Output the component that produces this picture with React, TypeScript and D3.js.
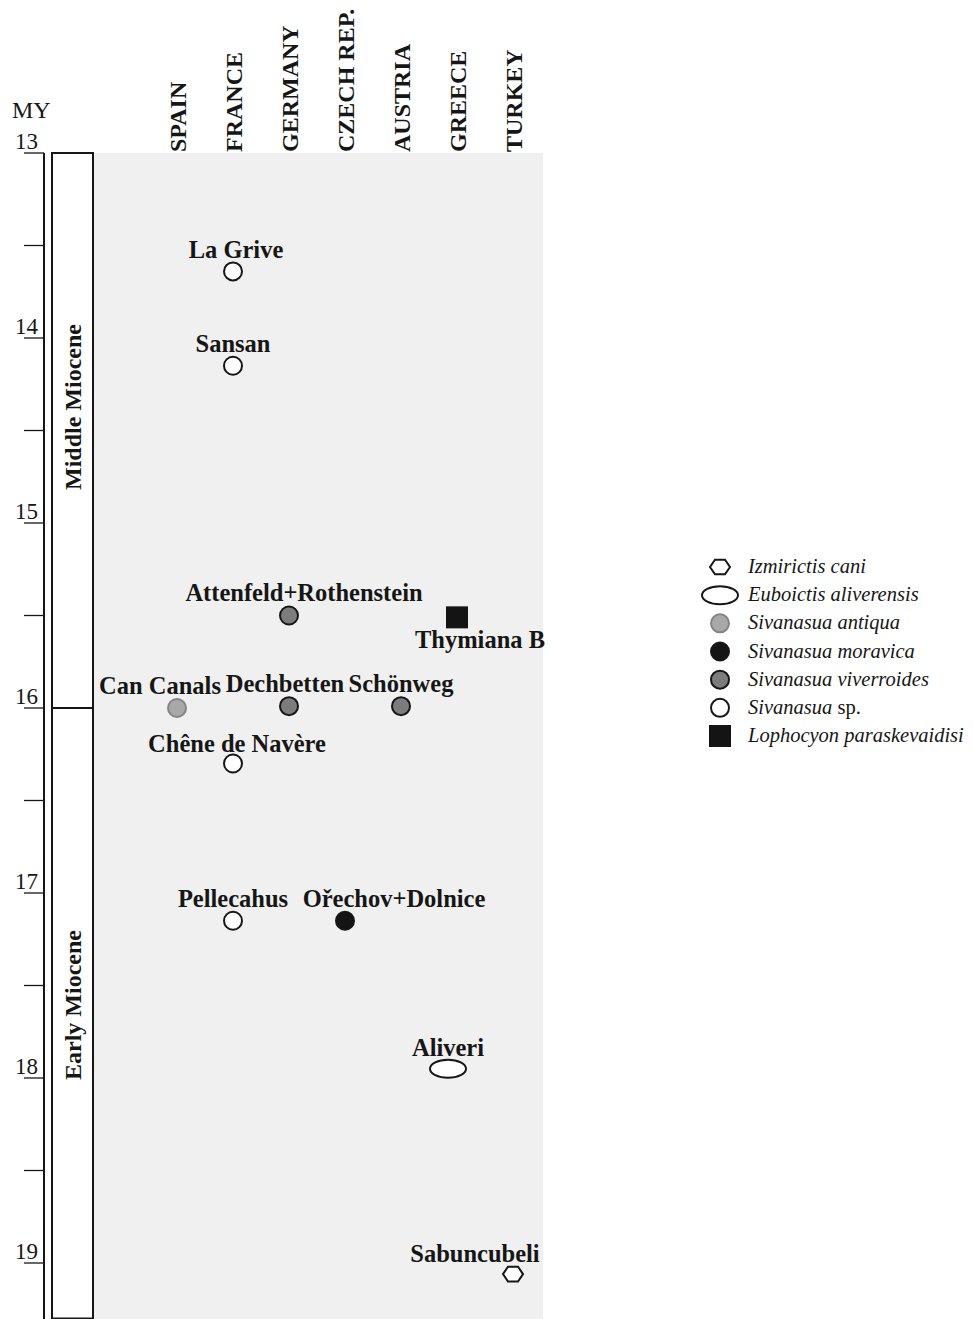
import * as d3 from "d3";

// columns along the top
const countries = ["SPAIN", "FRANCE", "GERMANY", "CZECH REP.", "AUSTRIA", "GREECE", "TURKEY"];

// age axis (million years)
const ageDomain = [13, 19];
const epochs = [
  { name: "Middle Miocene", from: 13, to: 16 },
  { name: "Early Miocene", from: 16, to: 19.3 },
];

// taxa for the legend, in order
const taxa = [
  { key: "izmirictis", genus: "Izmirictis cani", tail: "" },
  { key: "euboictis", genus: "Euboictis aliverensis", tail: "" },
  { key: "antiqua", genus: "Sivanasua antiqua", tail: "" },
  { key: "moravica", genus: "Sivanasua moravica", tail: "" },
  { key: "viverroides", genus: "Sivanasua viverroides", tail: "" },
  { key: "sp", genus: "Sivanasua", tail: " sp." },
  { key: "lophocyon", genus: "Lophocyon paraskevaidisi", tail: "" },
];

// localities
const sites = [
  { name: "La Grive", country: "FRANCE", age: 13.64, taxon: "sp" },
  { name: "Sansan", country: "FRANCE", age: 14.15, taxon: "sp" },
  { name: "Attenfeld+Rothenstein", country: "GERMANY", age: 15.5, taxon: "viverroides" },
  { name: "Thymiana B", country: "GREECE", age: 15.51, taxon: "lophocyon" },
  { name: "Can Canals", country: "SPAIN", age: 16.0, taxon: "antiqua" },
  { name: "Dechbetten", country: "GERMANY", age: 15.99, taxon: "viverroides" },
  { name: "Schönweg", country: "AUSTRIA", age: 15.99, taxon: "viverroides" },
  { name: "Chêne de Navère", country: "FRANCE", age: 16.3, taxon: "sp" },
  { name: "Pellecahus", country: "FRANCE", age: 17.15, taxon: "sp" },
  { name: "Ořechov+Dolnice", country: "CZECH REP.", age: 17.15, taxon: "moravica" },
  { name: "Aliveri", country: "GREECE", age: 17.95, taxon: "euboictis" },
  { name: "Sabuncubeli", country: "TURKEY", age: 19.06, taxon: "izmirictis" },
];

// label placement tweaks (px), keyed by site name
const labelNudge: Record<string, { dx: number; dy: number; mx?: number }> = {
  "La Grive": { dx: 3, dy: -13 },
  "Attenfeld+Rothenstein": { dx: 15, dy: -15 },
  "Thymiana B": { dx: 23, dy: 31 },
  "Can Canals": { dx: -17, dy: -14 },
  "Dechbetten": { dx: -4, dy: -14 },
  "Chêne de Navère": { dx: 4, dy: -12 },
  "Ořechov+Dolnice": { dx: 49, dy: -14 },
  "Aliveri": { dx: 0, dy: -13, mx: -9 },
  "Sabuncubeli": { dx: -38, dy: -12 },
};

const W = 973;
const H = 1319;
const serif = "'Liberation Serif', 'Times New Roman', serif";
const ink = "#161616";

const fills: Record<string, string> = {
  izmirictis: "#ffffff",
  euboictis: "#ffffff",
  antiqua: "#a8a8a8",
  moravica: "#141414",
  viverroides: "#7c7c7c",
  sp: "#ffffff",
  lophocyon: "#141414",
};

function hexPath(r: number) {
  const pts = d3.range(6).map((i) => {
    const a = (Math.PI / 3) * i;
    return [r * Math.cos(a), r * Math.sin(a) * 0.85] as [number, number];
  });
  return d3.line()(pts) + "Z";
}

function Marker({ taxon, x, y }: { taxon: string; x: number; y: number }) {
  const fill = fills[taxon];
  const stroke = taxon === "antiqua" ? "#858585" : ink;
  if (taxon === "lophocyon") {
    return <rect x={x - 11} y={y - 11} width={22} height={22} fill={fill} />;
  }
  if (taxon === "euboictis") {
    return <ellipse cx={x} cy={y} rx={18} ry={9} fill={fill} stroke={stroke} strokeWidth={2} />;
  }
  if (taxon === "izmirictis") {
    return (
      <path d={hexPath(10)} transform={`translate(${x},${y})`} fill={fill} stroke={stroke} strokeWidth={2} />
    );
  }
  return <circle cx={x} cy={y} r={9} fill={fill} stroke={stroke} strokeWidth={2} />;
}

export default function App() {
  const y = d3.scaleLinear().domain(ageDomain).range([153, 1263]);
  const x = d3.scalePoint().domain(countries).range([177, 513]);
  const ticks = y.ticks(12);

  const axisX = 44;
  const boxL = 52;
  const boxR = 93;
  const panelR = 543;

  const legendX = 720;
  const legendY = d3.scalePoint().domain(taxa.map((t) => t.key)).range([567, 736]);

  return (
    <svg
      width={W}
      height={H}
      style={{ position: "absolute", left: 0, top: 0, background: "#fff" }}
      fontFamily={serif}
    >
      {/* grey data panel */}
      <rect x={boxR} y={y(13)} width={panelR - boxR} height={H - y(13)} fill="#f0f0f0" />

      {/* age axis */}
      <text x={12} y={118} fontSize={24} fill={ink}>MY</text>
      <line x1={axisX} x2={axisX} y1={y(13)} y2={H} stroke={ink} strokeWidth={2} />
      {ticks.map((t) => (
        <g key={t}>
          <line x1={24} x2={axisX} y1={y(t)} y2={y(t)} stroke={ink} strokeWidth={1.3} />
          {Number.isInteger(t) && (
            <text x={38} y={y(t) - 4} textAnchor="end" fontSize={23} fill={ink}>
              {t}
            </text>
          )}
        </g>
      ))}

      {/* epoch column */}
      {epochs.map((e) => {
        const y0 = y(e.from);
        const y1 = Math.min(y(e.to), H + 10);
        return (
          <g key={e.name}>
            <rect x={boxL} y={y0} width={boxR - boxL} height={y1 - y0} fill="#fff" stroke={ink} strokeWidth={2} />
            <text
              transform={`translate(${(boxL + boxR) / 2},${e.name === "Middle Miocene" ? 407 : 1005}) rotate(-90)`}
              textAnchor="middle"
              dy="0.35em"
              fontSize={24}
              fontWeight="bold"
              fill={ink}
            >
              {e.name}
            </text>
          </g>
        );
      })}

      {/* country headers */}
      {countries.map((c) => (
        <text
          key={c}
          transform={`translate(${x(c)! + 1},152) rotate(-90)`}
          dy="0.33em"
          fontSize={24}
          fontWeight="bold"
          fill={ink}
        >
          {c}
        </text>
      ))}

      {/* localities */}
      {sites.map((s) => {
        const n = labelNudge[s.name] || { dx: 0, dy: -14 };
        const cx = x(s.country)! + (n.mx || 0);
        const cy = y(s.age);
        return (
          <g key={s.name}>
            <Marker taxon={s.taxon} x={cx} y={cy} />
            <text
              x={cx + n.dx}
              y={cy + n.dy}
              textAnchor="middle"
              fontSize={24.5}
              fontWeight="bold"
              fill={ink}
            >
              {s.name}
            </text>
          </g>
        );
      })}

      {/* legend */}
      {taxa.map((t) => (
        <g key={t.key}>
          <Marker taxon={t.key} x={legendX} y={legendY(t.key)!} />
          <text x={748} y={legendY(t.key)! + 6} fontSize={20.5} fill={ink}>
            <tspan fontStyle="italic">{t.genus}</tspan>
            {t.tail && <tspan>{t.tail}</tspan>}
          </text>
        </g>
      ))}
    </svg>
  );
}
